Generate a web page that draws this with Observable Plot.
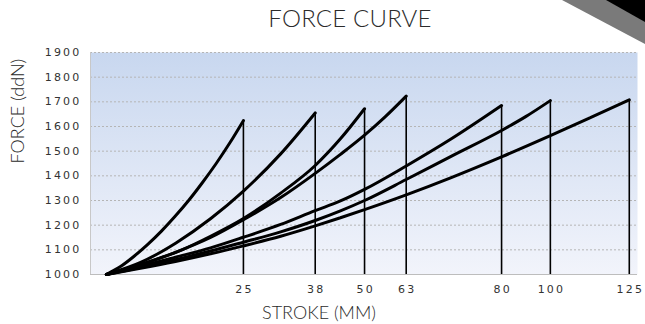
<!DOCTYPE html>
<html>
<head>
<meta charset="utf-8">
<script src="https://cdn.jsdelivr.net/npm/d3@7"></script>
<script src="https://cdn.jsdelivr.net/npm/@observablehq/plot@0.6"></script>
<style>
  html, body { margin: 0; padding: 0; background: #fff; }
  #wrap { position: relative; width: 645px; height: 324px; overflow: hidden; }
  #title { position: absolute; top: 4px; left: 350px; transform: translateX(-50%);
           font-family: Lato, "Open Sans", sans-serif; font-weight: 300; font-size: 24px;
           line-height: 28px; color: #2b2b2b; white-space: nowrap; letter-spacing: 0.2px; }
  #chart { position: absolute; top: 40px; left: 0; }
  #corner { position: absolute; top: 0; left: 0; }
  #chart svg g[aria-label="y-axis tick label"] text,
  #chart svg g[aria-label="x-axis tick label"] text { letter-spacing: 2.2px; }
</style>
</head>
<body>
<div id="wrap">
  <div id="title">FORCE CURVE</div>
  <div id="chart"></div>
  <svg id="corner" width="645" height="60">
    <polygon points="562,0 645,0 645,44" fill="#7a7a7a"></polygon>
    <polygon points="606,0 645,0 645,22" fill="#000"></polygon>
  </svg>
</div>
<script>
// Stroke sizes (mm) and where each stroke's curve ends on the chart's horizontal axis
const strokes = [25, 38, 50, 63, 80, 100, 125];
const strokeAxisPos = [25, 38.1, 47.1, 54.7, 72.1, 81.0, 95.4];
const peakForce = [1624, 1655, 1672, 1723, 1685, 1705, 1708];
const yTicks = [1000, 1100, 1200, 1300, 1400, 1500, 1600, 1700, 1800, 1900];

// Force curves (axis position, force in daN)
const pos25 = [0, 2.5, 5, 7.5, 10, 12.5, 15, 17.5, 20, 22.5, 25];
const force25 = [1000, 1031, 1073, 1121, 1175, 1235, 1300, 1372, 1449, 1533, 1624];

const pos38 = [0, 6.35, 12.7, 19.05, 25, 31.75, 38.1];
const force38 = [1000, 1050, 1128, 1227, 1338, 1488, 1655];

const pos50 = [0, 6.9, 13.8, 19, 25, 31.8, 38.1, 42.7, 47.1];
const force50 = [1000, 1045, 1100, 1155, 1227, 1330, 1442, 1550, 1672];

const pos63 = [0, 6.2, 12.6, 19, 25, 31.8, 38.1, 42.7, 47.1, 50.9, 54.7];
const force63 = [1000, 1040, 1090, 1150, 1222, 1312, 1410, 1487, 1565, 1640, 1723];

const pos80 = [0, 6.2, 12.6, 19, 25, 31.8, 38.1, 42.7, 47.1, 54.7, 62.8, 72.1];
const force80 = [1000, 1033, 1070, 1108, 1151, 1203, 1259, 1298, 1345, 1440, 1548, 1685];

const pos100 = [0, 6.2, 12.6, 19, 25, 31.8, 38.1, 42.7, 47.1, 54.7, 62.8, 72.1, 76.5, 81.0];
const force100 = [1000, 1028, 1060, 1095, 1131, 1173, 1219, 1258, 1300, 1385, 1478, 1584, 1640, 1705];

const pos125 = [0, 6.2, 12.6, 19, 25, 31.8, 38.1, 42.7, 47.1, 54.7, 62.8, 72.1, 81.0, 88.3, 95.4];
const force125 = [1000, 1025, 1053, 1084, 1116, 1155, 1197, 1230, 1263, 1323, 1392, 1477, 1563, 1636, 1708];

const curvePos = [pos25, pos38, pos50, pos63, pos80, pos100, pos125];
const curveForce = [force25, force38, force50, force63, force80, force100, force125];

const points = [];
strokes.forEach((s, i) => {
  curvePos[i].forEach((p, j) => points.push({stroke: s, pos: p, force: curveForce[i][j]}));
});
const ends = strokes.map((s, i) => ({stroke: s, pos: strokeAxisPos[i], peak: peakForce[i]}));
const labelOf = new Map(strokeAxisPos.map((p, i) => [p, String(strokes[i])]));

const tickFont = "DejaVu Sans, sans-serif";
const plot = Plot.plot({
  width: 645,
  height: 284,
  marginLeft: 90,
  marginRight: 8,
  marginTop: 12,
  marginBottom: 50,
  style: {fontFamily: tickFont, fontSize: "11px", color: "#333", background: "transparent", overflow: "visible"},
  x: {domain: [-2.9, 96.9]},
  y: {domain: [1000, 1900]},
  marks: [
    Plot.frame({fill: "url(#bgGrad)", stroke: "none"}),
    Plot.gridY(yTicks.slice(1), {stroke: "#b5b5b5", strokeOpacity: 1, strokeDasharray: "2,2", strokeWidth: 1}),
    Plot.ruleX([-2.9], {stroke: "#c8c8c8", strokeWidth: 1}),
    Plot.ruleY([1000], {stroke: "#bdbdbd", strokeWidth: 1.2}),
    Plot.axisY({ticks: yTicks, tickFormat: d => String(d), tickSize: 0, tickPadding: 9, fontSize: 11, label: null}),
    Plot.axisX({ticks: strokeAxisPos, tickFormat: d => labelOf.get(d), tickSize: 0, tickPadding: 11, fontSize: 11, label: null, dx: 1.1}),
    Plot.ruleX(ends, {x: "pos", y1: 1000, y2: "peak", stroke: "#000", strokeWidth: 1.6}),
    Plot.line(points, {x: "pos", y: "force", z: "stroke", stroke: "#000", strokeWidth: 3, curve: "monotone-x", strokeLinejoin: "miter"}),
    Plot.text(["STROKE (MM)"], {frameAnchor: "bottom", dx: -45, dy: 44, lineAnchor: "bottom", fontFamily: "Lato, sans-serif", fontWeight: 300, fontSize: 18, fill: "#2b2b2b"}),
    Plot.text(["FORCE (ddN)"], {frameAnchor: "left", dx: -72, rotate: -90, fontFamily: "Lato, sans-serif", fontWeight: 300, fontSize: 18, fill: "#2b2b2b"})
  ]
});

const defs = d3.select(plot).insert("defs", ":first-child");
const g = defs.append("linearGradient").attr("id", "bgGrad").attr("x1", 0).attr("y1", 0).attr("x2", 0).attr("y2", 1);
g.append("stop").attr("offset", "0%").attr("stop-color", "#c8d7ef");
g.append("stop").attr("offset", "100%").attr("stop-color", "#f2f4fb");

document.getElementById("chart").appendChild(plot);
</script>
</body>
</html>
